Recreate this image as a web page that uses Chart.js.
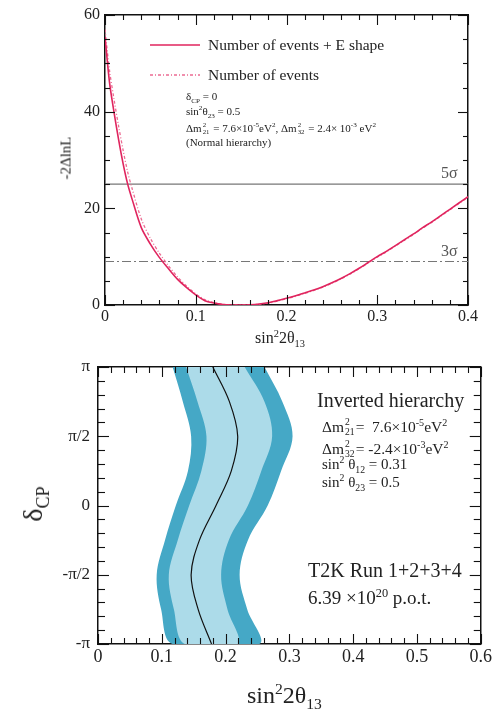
<!DOCTYPE html>
<html>
<head>
<meta charset="utf-8">
<script src="https://cdn.jsdelivr.net/npm/chart.js@4.4.0/dist/chart.umd.min.js"></script>
<style>
    body { margin: 0; background: #fff; width: 494px; height: 709px; position: relative; overflow: hidden; font-family: "Liberation Serif", "Times New Roman", serif; color: #222; }
    canvas { position: absolute; left: 0; }
    .t { position: absolute; white-space: nowrap; line-height: 1; z-index: 2; }
    .t sup, .t sub { font-size: 0.65em; line-height: 0; }
    .ss { display: inline-flex; flex-direction: column; font-size: 0.62em; line-height: 1; vertical-align: 0.72em; margin: 0 1px; }
    .rot { transform: translate(-50%, -50%) rotate(-90deg); }
    .key { position: absolute; z-index: 2; }
</style>
</head>
<body>
<canvas id="topChart" width="494" height="345" style="top:0"></canvas>
<canvas id="bottomChart" width="494" height="364" style="top:345px"></canvas>

<!-- top panel texts -->
<svg class="key" style="left:150px;top:40px" width="52" height="40">
    <line x1="0" y1="5" x2="50" y2="5" stroke="#e0245e" stroke-width="1.6"/>
    <line x1="0" y1="35" x2="50" y2="35" stroke="#ec6b92" stroke-width="1.3" stroke-dasharray="3,2,1,2"/>
</svg>
<div class="t" style="left:208px;top:37px;font-size:15.5px">Number of events + E shape</div>
<div class="t" style="left:208px;top:67px;font-size:15.5px">Number of events</div>
<div class="t" style="left:186px;top:91px;font-size:11px">δ<sub>CP</sub> = 0</div>
<div class="t" style="left:186px;top:106px;font-size:11px">sin<sup>2</sup>θ<sub>23</sub> = 0.5</div>
<div class="t" style="left:186px;top:122px;font-size:11px">Δm<span class="ss"><span>2</span><span>21</span></span> = 7.6×10<sup>-5</sup>eV<sup>2</sup>, Δm<span class="ss"><span>2</span><span>32</span></span> = 2.4× 10<sup>-3</sup> eV<sup>2</sup></div>
<div class="t" style="left:186px;top:137px;font-size:11px">(Normal hierarchy)</div>
<div class="t" style="left:441px;top:165px;font-size:16px;color:#555">5σ</div>
<div class="t" style="left:441px;top:243px;font-size:16px;color:#555">3σ</div>
<div class="t rot" style="left:66px;top:158px;font-size:15px">-2ΔlnL</div>
<div class="t" style="left:255px;top:330px;font-size:16px">sin<sup>2</sup>2θ<sub>13</sub></div>

<!-- bottom panel texts -->
<div class="t" style="left:317px;top:390px;font-size:20px">Inverted hierarchy</div>
<div class="t" style="left:322px;top:417px;font-size:15.5px">Δm<span class="ss"><span>2</span><span>21</span></span>= &nbsp;7.6×10<sup>-5</sup>eV<sup>2</sup></div>
<div class="t" style="left:322px;top:439px;font-size:15.5px">Δm<span class="ss"><span>2</span><span>32</span></span>= -2.4×10<sup>-3</sup>eV<sup>2</sup></div>
<div class="t" style="left:322px;top:457px;font-size:15px">sin<sup>2</sup> θ<sub>12</sub> = 0.31</div>
<div class="t" style="left:322px;top:475px;font-size:15px">sin<sup>2</sup> θ<sub>23</sub> = 0.5</div>
<div class="t" style="left:308px;top:560px;font-size:20px">T2K Run 1+2+3+4</div>
<div class="t" style="left:308px;top:588px;font-size:19px">6.39 ×10<sup>20</sup> p.o.t.</div>
<div class="t rot" style="left:33px;top:504px;font-size:28px">δ<sub>CP</sub></div>
<div class="t" style="left:247px;top:683px;font-size:24px">sin<sup>2</sup>2θ<sub>13</sub></div>

<script>
// ---- top panel: -2ΔlnL vs sin²2θ13 ----
const topX = [0, 0.005, 0.01, 0.015, 0.02, 0.025, 0.03, 0.04, 0.05, 0.06, 0.07, 0.08, 0.09, 0.1,
    0.11, 0.12, 0.13, 0.14, 0.15, 0.16, 0.17, 0.18, 0.19, 0.2, 0.21, 0.22, 0.23, 0.24, 0.25, 0.26,
    0.27, 0.28, 0.29, 0.3, 0.31, 0.32, 0.33, 0.34, 0.35, 0.36, 0.37, 0.38, 0.39, 0.4];
const shapeChi2 = [55.5, 46.0, 39.8, 34.2, 29.2, 25.0, 21.8, 16.0, 12.6, 9.8, 7.5, 5.3, 3.6, 2.1,
    0.9, 0.4, 0.1, 0, 0, 0.05, 0.2, 0.45, 0.9, 1.4, 1.9, 2.5, 3.1, 3.8, 4.6, 5.5,
    6.5, 7.6, 8.8, 10.0, 11.1, 12.3, 13.5, 14.7, 16.0, 17.2, 18.5, 19.8, 21.1, 22.4];
const countChi2 = [57.0, 48.5, 42.5, 37.0, 32.0, 27.5, 24.0, 17.8, 13.8, 10.7, 8.1, 5.8, 3.9, 2.3,
    1.1, 0.5, 0.15, 0, 0, 0.03, 0.15, 0.4, 0.8, 1.3, 1.8, 2.4, 3.0, 3.7, 4.5, 5.4,
    6.4, 7.5, 8.7, 9.9, 11.0, 12.2, 13.4, 14.6, 15.9, 17.1, 18.4, 19.7, 21.0, 22.3];
const sigmaLevels = [25, 9];          // 5σ, 3σ
const topXRange = [0, 0.4];
const topYRange = [0, 60];
const topXTickLabels = ['0', '0.1', '0.2', '0.3', '0.4'];
const topYTickLabels = ['0', '20', '40', '60'];

// ---- bottom panel: δCP vs sin²2θ13 (inverted hierarchy) ----
const deltaOverPi = [1, 0.75, 0.5, 0.25, 0, -0.25, -0.5, -0.75, -1];
const outerLeft  = [0.117, 0.133, 0.146, 0.141, 0.122, 0.105, 0.092, 0.099, 0.117];
const innerLeft  = [0.138, 0.156, 0.170, 0.162, 0.143, 0.125, 0.111, 0.119, 0.136];
const bestFit    = [0.180, 0.206, 0.219, 0.209, 0.185, 0.159, 0.146, 0.157, 0.178];
const innerRight = [0.230, 0.261, 0.273, 0.256, 0.235, 0.205, 0.193, 0.203, 0.219];
const outerRight = [0.261, 0.289, 0.305, 0.287, 0.266, 0.235, 0.222, 0.234, 0.253];
const botXRange = [0, 0.6];
const botXTickLabels = ['0', '0.1', '0.2', '0.3', '0.4', '0.5', '0.6'];
const deltaTickLabels = ['-π', '-π/2', '0', 'π/2', 'π'];

const SERIF = '"Liberation Serif", "Times New Roman", serif';

function isMultiple(v, step) {
    const r = v / step;
    return Math.abs(r - Math.round(r)) < 1e-6;
}

// tick marks pointing into the frame, longer on major values
const inwardTicks = {
    id: 'inwardTicks',
    afterDatasetsDraw(chart, args, opts) {
        const { ctx, chartArea: a } = chart;
        ctx.save();
        ctx.strokeStyle = '#111';
        ctx.lineWidth = 1.1;
        Object.values(chart.scales).forEach(s => {
            const cfg = opts[s.id];
            if (!cfg) return;
            s.ticks.forEach(t => {
                const l = isMultiple(t.value - s.min, cfg.majorStep) ? cfg.len : cfg.minorLen;
                const p = Math.round(s.getPixelForValue(t.value)) + 0.5;
                ctx.beginPath();
                if (s.position === 'left') { ctx.moveTo(a.left, p); ctx.lineTo(a.left + l, p); }
                else if (s.position === 'right') { ctx.moveTo(a.right, p); ctx.lineTo(a.right - l, p); }
                else if (s.position === 'bottom') { ctx.moveTo(p, a.bottom); ctx.lineTo(p, a.bottom - l); }
                else { ctx.moveTo(p, a.top); ctx.lineTo(p, a.top + l); }
                ctx.stroke();
            });
        });
        ctx.restore();
    }
};

function axis(opts) {
    const { position, min, max, step, majorStep, labels, size, pad, font, buildTicks } = opts;
    const horizontal = position === 'top' || position === 'bottom';
    return {
        type: 'linear',
        axis: horizontal ? 'x' : 'y',
        position,
        min, max,
        border: { display: true, color: '#111', width: 1.5 },
        grid: { drawOnChartArea: false, drawTicks: false },
        afterBuildTicks: buildTicks,
        ticks: {
            stepSize: step,
            autoSkip: false,
            maxRotation: 0,
            padding: pad || 0,
            color: '#222',
            font: { family: SERIF, size: font || 14 },
            callback: v => {
                if (!labels || !isMultiple(v - min, majorStep)) return '';
                return labels[Math.round((v - min) / majorStep)];
            }
        },
        afterFit: s => {
            if (horizontal) s.height = size; else s.width = size;
        }
    };
}

function pts(xs, ys) {
    return xs.map((x, i) => ({ x, y: ys[i] }));
}

// top chart
const topDatasets = [
    {
        label: 'Number of events + E shape',
        data: pts(topX, shapeChi2),
        borderColor: '#e0245e',
        borderWidth: 1.6,
        tension: 0.3,
        order: 1
    },
    {
        label: 'Number of events',
        data: pts(topX, countChi2),
        borderColor: '#ec6b92',
        borderWidth: 1.3,
        borderDash: [3, 2, 1, 2],
        tension: 0.3,
        order: 2
    }
];
sigmaLevels.forEach((lvl, i) => {
    topDatasets.push({
        label: i === 0 ? '5σ' : '3σ',
        data: pts(topXRange, [lvl, lvl]),
        borderColor: '#777',
        borderWidth: 1.2,
        borderDash: i === 0 ? [] : [9, 3, 2, 3],
        order: 5
    });
});

const topMarks = { majorStep: 0.1, len: 10, minorLen: 5 };
const topYMarks = { majorStep: 20, len: 10, minorLen: 5 };

new Chart(document.getElementById('topChart'), {
    type: 'line',
    data: { datasets: topDatasets },
    plugins: [inwardTicks],
    options: {
        responsive: false,
        animation: false,
        layout: { padding: 0 },
        elements: { point: { radius: 0 } },
        plugins: {
            legend: { display: false },
            tooltip: { enabled: false },
            inwardTicks: { x: topMarks, x2: topMarks, y: topYMarks, y2: topYMarks }
        },
        scales: {
            x: axis({ position: 'bottom', min: topXRange[0], max: topXRange[1], step: 0.02, majorStep: 0.1,
                labels: topXTickLabels, size: 40, pad: 2, font: 16 }),
            x2: axis({ position: 'top', min: topXRange[0], max: topXRange[1], step: 0.02, majorStep: 0.1, size: 15 }),
            y: axis({ position: 'left', min: topYRange[0], max: topYRange[1], step: 5, majorStep: 20,
                labels: topYTickLabels, size: 105, pad: 5, font: 16 }),
            y2: axis({ position: 'right', min: topYRange[0], max: topYRange[1], step: 5, majorStep: 20, size: 26 })
        }
    }
});

// bottom chart
function bandPolygon(left, right) {
    const down = left.map((x, i) => ({ x, y: deltaOverPi[i] * Math.PI }));
    const up = right.map((x, i) => ({ x, y: deltaOverPi[i] * Math.PI })).reverse();
    return down.concat(up);
}

const piTicks = s => {
    const t = [];
    for (let k = -10; k <= 10; k++) t.push({ value: k * Math.PI / 10 });
    s.ticks = t;
};

const botXMarks = { majorStep: 0.1, len: 10, minorLen: 6 };
const botYMarks = { majorStep: Math.PI / 2, len: 11, minorLen: 7 };

new Chart(document.getElementById('bottomChart'), {
    type: 'line',
    data: {
        datasets: [
            {
                label: 'best fit',
                data: deltaOverPi.map((d, i) => ({ x: bestFit[i], y: d * Math.PI })),
                borderColor: '#111',
                borderWidth: 1.2,
                tension: 0.35,
                order: 1
            },
            {
                label: '68% CL',
                data: bandPolygon(innerLeft, innerRight),
                borderWidth: 0,
                borderColor: 'rgba(0,0,0,0)',
                backgroundColor: '#acdbe9',
                fill: 'shape',
                tension: 0.35,
                order: 2
            },
            {
                label: '90% CL',
                data: bandPolygon(outerLeft, outerRight),
                borderWidth: 0,
                borderColor: 'rgba(0,0,0,0)',
                backgroundColor: '#45a8c6',
                fill: 'shape',
                tension: 0.35,
                order: 3
            }
        ]
    },
    plugins: [inwardTicks],
    options: {
        responsive: false,
        animation: false,
        layout: { padding: 0 },
        elements: { point: { radius: 0 } },
        plugins: {
            legend: { display: false },
            tooltip: { enabled: false },
            inwardTicks: { x: botXMarks, x2: botXMarks, y: botYMarks, y2: botYMarks }
        },
        scales: {
            x: axis({ position: 'bottom', min: botXRange[0], max: botXRange[1], step: 0.02, majorStep: 0.1,
                labels: botXTickLabels, size: 65, pad: 2, font: 18 }),
            x2: axis({ position: 'top', min: botXRange[0], max: botXRange[1], step: 0.02, majorStep: 0.1, size: 22 }),
            y: axis({ position: 'left', min: -Math.PI, max: Math.PI, step: Math.PI / 10, majorStep: Math.PI / 2,
                labels: deltaTickLabels, size: 98, pad: 8, font: 17, buildTicks: piTicks }),
            y2: axis({ position: 'right', min: -Math.PI, max: Math.PI, step: Math.PI / 10, majorStep: Math.PI / 2,
                size: 12, buildTicks: piTicks })
        }
    }
});
</script>
</body>
</html>
